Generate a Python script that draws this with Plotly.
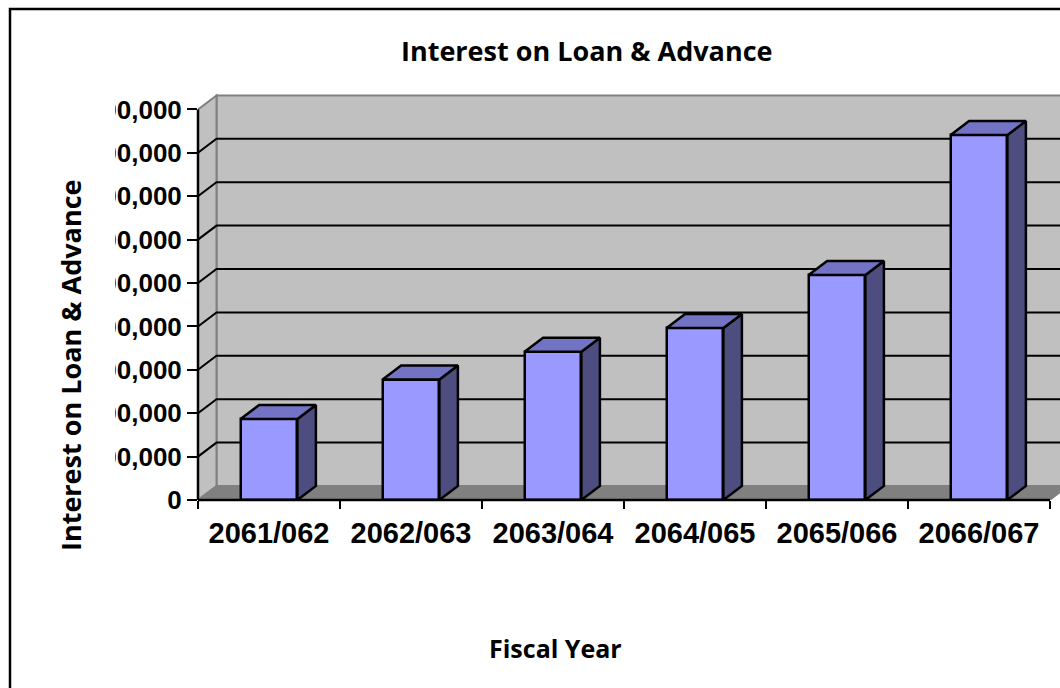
import plotly.graph_objects as go

# ---- data -------------------------------------------------------------
fiscal_years = ["2061/062", "2062/063", "2063/064", "2064/065", "2065/066", "2066/067"]
interest_income = [186600, 277600, 341700, 396300, 518400, 841000]
tick_values = [0, 100000, 200000, 300000, 400000, 500000, 600000, 700000, 800000, 900000]
tick_labels = ["0", "100,000", "200,000", "300,000", "400,000", "500,000",
               "600,000", "700,000", "800,000", "900,000"]

# ---- layout geometry ---------------------------------------------------
W, H = 1060, 688
M_L, M_R, M_T, M_B = 198, 0, 90, 188
PLOT_W = W - M_L - M_R
PLOT_H = H - M_T - M_B
PX_PER_CAT = 142.0
PX_PER_STEP = 43.4
STEP = tick_values[1] - tick_values[0]
N = len(fiscal_years)

X_MIN = -0.5
X_MAX = X_MIN + PLOT_W / PX_PER_CAT
Y_MAX = PLOT_H / PX_PER_STEP * STEP

# 3-D depth offset, in data units
DX = 18.5 / PX_PER_CAT
DY = 14.0 / PX_PER_STEP * STEP
BAR_W = 0.40
TOP_Y = tick_values[-1]


def paper_x(px):
    return (px - M_L) / PLOT_W


def paper_y(py):
    return (H - M_B - py) / PLOT_H


FRONT = "#9999FF"
TOPC = "#7373C6"
SIDE = "#4D4D80"
WALL = "#C0C0C0"
FLOOR = "#808080"
EDGE = "#808080"

fig = go.Figure()

# front faces of the columns
fig.add_trace(go.Bar(
    x=list(range(N)), y=interest_income, width=BAR_W,
    marker=dict(color=FRONT, line=dict(color="black", width=2.5)),
    hoverinfo="skip", showlegend=False,
))

# top and side faces of the columns, derived from the same values
top_x, top_y, side_x, side_y = [], [], [], []
for i, v in enumerate(interest_income):
    x0, x1 = i - BAR_W / 2, i + BAR_W / 2
    top_x += [x0, x1, x1 + DX, x0 + DX, x0, None]
    top_y += [v, v, v + DY, v + DY, v, None]
    side_x += [x1, x1 + DX, x1 + DX, x1, x1, None]
    side_y += [0, DY, v + DY, v, 0, None]

for xs, ys, col in ((side_x, side_y, SIDE), (top_x, top_y, TOPC)):
    fig.add_trace(go.Scatter(
        x=xs, y=ys, mode="lines", fill="toself", fillcolor=col,
        line=dict(color="black", width=2.5), hoverinfo="skip", showlegend=False,
    ))

# invisible helper trace so the label axis is laid out
fig.add_trace(go.Scatter(x=[0], y=[0], xaxis="x2", mode="markers",
                         marker=dict(opacity=0), hoverinfo="skip", showlegend=False))

shapes = []
# back wall
shapes.append(dict(type="rect", xref="x", yref="y", layer="below",
                   x0=X_MIN + DX, x1=N - 0.5 + DX, y0=DY, y1=TOP_Y + DY,
                   fillcolor=WALL, line=dict(color=EDGE, width=2)))
# side wall
shapes.append(dict(type="path", xref="x", yref="y", layer="below",
                   path=f"M {X_MIN},0 L {X_MIN + DX},{DY} L {X_MIN + DX},{TOP_Y + DY} "
                        f"L {X_MIN},{TOP_Y} Z",
                   fillcolor=WALL, line=dict(color=EDGE, width=2)))
# floor
shapes.append(dict(type="path", xref="x", yref="y", layer="below",
                   path=f"M {X_MIN},0 L {N - 0.5},0 L {N - 0.5 + DX},{DY} L {X_MIN + DX},{DY} Z",
                   fillcolor=FLOOR, line=dict(color=EDGE, width=1.5)))
# gridlines running along the side wall and the back wall
for t in tick_values[1:-1]:
    shapes.append(dict(type="path", xref="x", yref="y", layer="below",
                       path=f"M {X_MIN},{t} L {X_MIN + DX},{t + DY} L {N - 0.5 + DX},{t + DY}",
                       line=dict(color="black", width=2)))
# front value axis line
shapes.append(dict(type="line", xref="x domain", yref="y", layer="above",
                   x0=0, x1=0, y0=0, y1=TOP_Y, line=dict(color="black", width=2.5)))
# front category axis line
shapes.append(dict(type="line", xref="x", yref="y domain", layer="above",
                   x0=X_MIN, x1=N - 0.5, y0=0, y1=0, line=dict(color="black", width=2.5)))
# chart area edge masks the leading digits of the value labels
shapes.append(dict(type="rect", xref="paper", yref="paper", layer="above",
                   x0=paper_x(12), x1=paper_x(115), y0=paper_y(478), y1=paper_y(92),
                   fillcolor="white", line=dict(width=0)))
# chart border
shapes.append(dict(type="rect", xref="paper", yref="paper", layer="above",
                   x0=paper_x(10), x1=paper_x(W + 20), y0=paper_y(H + 20), y1=paper_y(9),
                   fillcolor="rgba(0,0,0,0)", line=dict(color="black", width=2.5)))

title_font = dict(family="Open Sans", size=27, color="black", weight="bold")
axis_title_font = dict(family="Open Sans", size=25, color="black", weight="bold")
annotations = [
    dict(text="Interest on Loan & Advance", xref="paper", yref="paper",
         x=paper_x(586), y=paper_y(51), xanchor="center", yanchor="middle",
         showarrow=False, font=title_font),
    dict(text="Interest on Loan & Advance", xref="paper", yref="paper",
         x=paper_x(70), y=paper_y(366), xanchor="center", yanchor="middle",
         textangle=-90, showarrow=False, font=title_font),
    dict(text="Fiscal Year", xref="paper", yref="paper",
         x=paper_x(555), y=paper_y(648), xanchor="center", yanchor="middle",
         showarrow=False, font=axis_title_font),
]

tick_font = dict(family="Liberation Sans", size=26, color="black", weight="bold")
fig.update_layout(
    width=W, height=H,
    margin=dict(l=M_L, r=M_R, t=M_T, b=M_B),
    paper_bgcolor="white", plot_bgcolor="white",
    showlegend=False, bargap=0,
    shapes=shapes, annotations=annotations,
    xaxis=dict(range=[X_MIN, X_MAX], tickmode="array",
               tickvals=[k - 0.5 for k in range(N + 1)],
               showticklabels=False, ticks="outside", ticklen=8, tickwidth=2,
               tickcolor="black", showgrid=False, zeroline=False, showline=False,
               fixedrange=True),
    xaxis2=dict(range=[X_MIN, X_MAX], overlaying="x", anchor="y", side="bottom",
                tickmode="array", tickvals=list(range(N)), ticktext=fiscal_years,
                ticks="", showgrid=False, zeroline=False, showline=False,
                tickfont=dict(family="Liberation Sans", size=29, color="black",
                              weight="bold"),
                ticklabelstandoff=13, fixedrange=True),
    yaxis=dict(range=[0, Y_MAX], tickmode="array", tickvals=tick_values,
               ticktext=tick_labels, ticks="outside", ticklen=10, tickwidth=2,
               tickcolor="black", tickfont=tick_font, showgrid=False,
               zeroline=False, showline=False, fixedrange=True),
)

fig.write_html("out.html")
